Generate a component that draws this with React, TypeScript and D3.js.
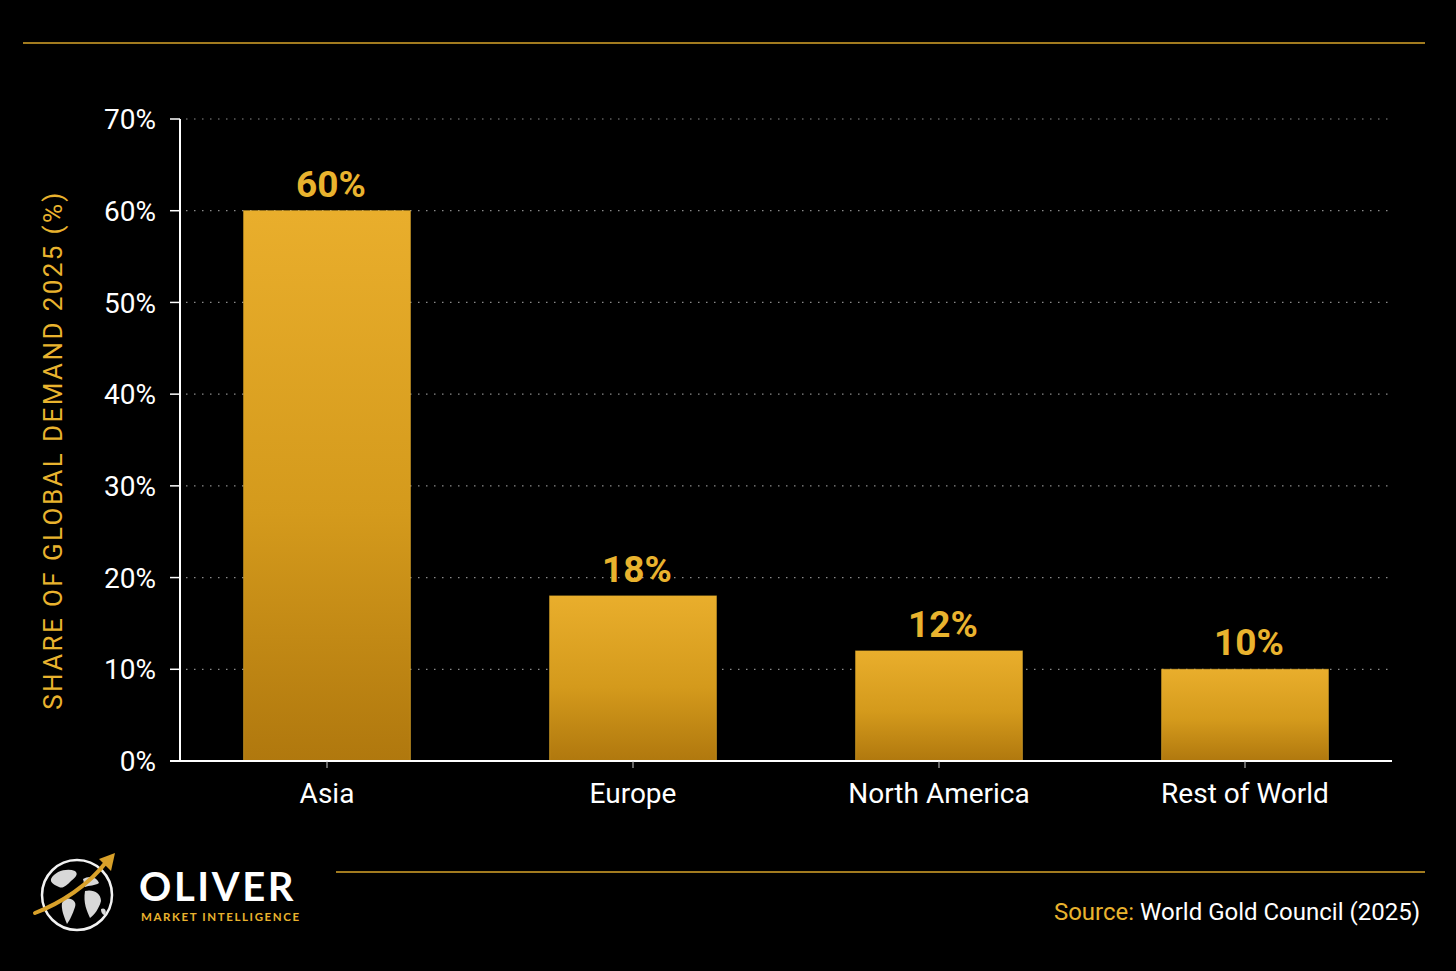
import React, { useEffect, useRef } from 'react';
import * as d3 from 'd3';

const regions = ['Asia', 'Europe', 'North America', 'Rest of World'];
const shares = [60, 18, 12, 10];
const yTicks = [0, 10, 20, 30, 40, 50, 60, 70];

const W = 1456;
const H = 971;
const GOLD = '#E9B32E';

export default function App() {
  const svgRef = useRef<SVGSVGElement>(null);

  useEffect(() => {
    if (!svgRef.current) return;
    document.body.style.margin = '0';
    document.body.style.background = '#000';

    const svg = d3.select(svgRef.current);
    svg.selectAll('*').remove();

    const left = 180;
    const right = 1392;
    const top = 119;
    const bottom = 761;

    const x = d3.scaleBand<string>().domain(regions).range([174, 1398]).padding(0);
    const y = d3.scaleLinear().domain([0, 70]).range([bottom, top]);
    const barW = x.bandwidth() * 0.545;
    const cx = (name: string) => x(name)! + x.bandwidth() / 2;

    svg.append('rect').attr('width', W).attr('height', H).attr('fill', '#000');

    const defs = svg.append('defs');
    const grad = defs.append('linearGradient')
      .attr('id', 'barGrad')
      .attr('x1', 0).attr('y1', 0).attr('x2', 0).attr('y2', 1);
    grad.append('stop').attr('offset', '0%').attr('stop-color', '#E9AE2C');
    grad.append('stop').attr('offset', '55%').attr('stop-color', '#D49A1C');
    grad.append('stop').attr('offset', '100%').attr('stop-color', '#B0780E');

    // top and bottom rules
    svg.append('line')
      .attr('x1', 23).attr('x2', 1425).attr('y1', 43).attr('y2', 43)
      .attr('stroke', '#D9A42A').attr('stroke-width', 1.3);
    svg.append('line')
      .attr('x1', 336).attr('x2', 1425).attr('y1', 872).attr('y2', 872)
      .attr('stroke', '#D9A42A').attr('stroke-width', 1.3);

    // gridlines
    svg.append('g')
      .selectAll('line')
      .data(yTicks.filter(t => t > 0))
      .join('line')
      .attr('x1', left + 6).attr('x2', right)
      .attr('y1', d => y(d)).attr('y2', d => y(d))
      .attr('stroke', '#8a8a8a')
      .attr('stroke-width', 1.2)
      .attr('stroke-dasharray', '1.5,6.5');

    // bars
    svg.append('g')
      .selectAll('rect')
      .data(shares)
      .join('rect')
      .attr('x', (d, i) => cx(regions[i]) - barW / 2)
      .attr('y', d => y(d))
      .attr('width', barW)
      .attr('height', d => bottom - y(d))
      .attr('fill', 'url(#barGrad)')
      .attr('stroke', '#E8B02E')
      .attr('stroke-opacity', 0.6)
      .attr('stroke-width', 1);

    // value labels
    svg.append('g')
      .selectAll('text')
      .data(shares)
      .join('text')
      .attr('x', (d, i) => cx(regions[i]) + 4)
      .attr('y', d => y(d) - 14)
      .attr('text-anchor', 'middle')
      .attr('font-family', 'Roboto, sans-serif')
      .attr('font-weight', 700)
      .attr('font-size', 37)
      .attr('fill', GOLD)
      .text(d => `${d}%`);

    // y axis
    const yAxis = svg.append('g');
    yAxis.append('line')
      .attr('x1', left).attr('x2', left).attr('y1', top).attr('y2', bottom)
      .attr('stroke', '#fff').attr('stroke-width', 2);
    yAxis.selectAll('line.tick')
      .data(yTicks)
      .join('line')
      .attr('class', 'tick')
      .attr('x1', left - 10).attr('x2', left)
      .attr('y1', d => y(d)).attr('y2', d => y(d))
      .attr('stroke', '#fff').attr('stroke-width', 1.5);
    yAxis.selectAll('text')
      .data(yTicks)
      .join('text')
      .attr('x', left - 24)
      .attr('y', d => y(d))
      .attr('dy', '0.36em')
      .attr('text-anchor', 'end')
      .attr('font-family', 'Roboto, sans-serif')
      .attr('font-size', 28)
      .attr('fill', '#fff')
      .text(d => `${d}%`);

    // x axis
    const xAxis = svg.append('g');
    xAxis.append('line')
      .attr('x1', left - 10).attr('x2', right).attr('y1', bottom).attr('y2', bottom)
      .attr('stroke', '#fff').attr('stroke-width', 2);
    xAxis.selectAll('line.tick')
      .data(regions)
      .join('line')
      .attr('class', 'tick')
      .attr('x1', d => cx(d))
      .attr('x2', d => cx(d))
      .attr('y1', bottom).attr('y2', bottom + 7)
      .attr('stroke', '#ccc').attr('stroke-width', 1);
    xAxis.selectAll('text')
      .data(regions)
      .join('text')
      .attr('x', d => cx(d))
      .attr('y', 803)
      .attr('text-anchor', 'middle')
      .attr('font-family', 'Roboto, sans-serif')
      .attr('font-size', 28)
      .attr('fill', '#fff')
      .text(d => d);

    // y title
    svg.append('text')
      .attr('transform', `translate(62,450) rotate(-90)`)
      .attr('text-anchor', 'middle')
      .attr('font-family', 'Roboto, sans-serif')
      .attr('font-size', 26)
      .attr('letter-spacing', 2.4)
      .attr('fill', GOLD)
      .text('SHARE OF GLOBAL DEMAND 2025 (%)');

    // source
    const src = svg.append('text')
      .attr('x', 1420).attr('y', 920)
      .attr('text-anchor', 'end')
      .attr('font-family', 'Roboto, sans-serif')
      .attr('font-size', 24);
    src.append('tspan').attr('fill', GOLD).text('Source: ');
    src.append('tspan').attr('fill', '#fff').text('World Gold Council (2025)');

    // logo
    const logo = svg.append('g').attr('transform', 'translate(77,895)');
    logo.append('circle').attr('r', 35).attr('fill', '#000')
      .attr('stroke', '#f2f2f2').attr('stroke-width', 2.5);
    // rough continents
    const land = [
      'M-26,-16 C-22,-24 -10,-27 -2,-24 C2,-21 -2,-17 -6,-14 C-10,-10 -14,-6 -18,-8 C-22,-10 -27,-12 -26,-16 Z',
      'M-12,4 C-6,2 0,6 -2,12 C-4,18 -7,25 -10,29 C-13,22 -16,14 -15,8 Z',
      'M6,-16 C12,-20 20,-18 22,-12 C18,-9 12,-10 8,-8 Z',
      'M8,-4 C16,-6 24,-2 24,6 C22,14 17,20 13,23 C10,16 6,8 8,-4 Z',
      'M24,14 C28,12 30,16 28,20 C26,20 24,18 24,14 Z'
    ];
    logo.selectAll('path.land')
      .data(land)
      .join('path')
      .attr('class', 'land')
      .attr('d', d => d)
      .attr('fill', '#d8d8d8');
    logo.append('path')
      .attr('d', 'M-42,18 C-16,8 12,-10 30,-34')
      .attr('fill', 'none')
      .attr('stroke', '#D9A12A')
      .attr('stroke-width', 4)
      .attr('stroke-linecap', 'round');
    logo.append('path')
      .attr('d', 'M38,-42 L22,-36 L34,-24 Z')
      .attr('fill', '#D9A12A');

    svg.append('text')
      .attr('x', 139).attr('y', 901)
      .attr('font-family', 'Lato, "Open Sans", sans-serif')
      .attr('font-weight', 700)
      .attr('font-size', 40)
      .attr('letter-spacing', 2.6)
      .attr('fill', '#fff')
      .text('OLIVER');
    svg.append('text')
      .attr('x', 141).attr('y', 921)
      .attr('font-family', 'Lato, "Open Sans", sans-serif')
      .attr('font-weight', 700)
      .attr('font-size', 11.5)
      .attr('letter-spacing', 1.6)
      .attr('fill', GOLD)
      .text('MARKET INTELLIGENCE');
  }, []);

  return (
    <div style={{ position: 'absolute', left: 0, top: 0, width: W, height: H, background: '#000' }}>
      <svg ref={svgRef} width={W} height={H} style={{ display: 'block' }} />
    </div>
  );
}
